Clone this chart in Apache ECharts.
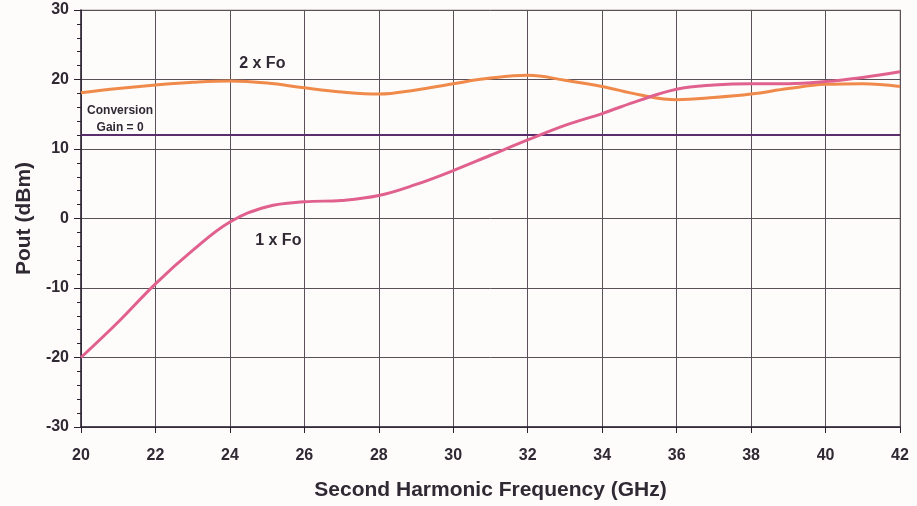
<!DOCTYPE html>
<html>
<head>
<meta charset="utf-8">
<script src="https://cdn.jsdelivr.net/npm/echarts@6/dist/echarts.min.js"></script>
<style>
  html, body { margin: 0; padding: 0; background: #fdfcfb; }
  #chart { width: 917px; height: 506px; }
</style>
</head>
<body>
<div id="chart"></div>
<script>
var chartDom = document.getElementById('chart');
var myChart = echarts.init(chartDom);

// frequency (GHz) and output power (dBm)
const freq = [20, 21, 22, 23, 24, 25, 26, 27, 28, 29, 30, 31, 32, 33, 34, 35, 36, 37, 38, 39, 40, 41, 42];
const twoFo = [18.1, 18.7, 19.2, 19.6, 19.8, 19.5, 18.8, 18.2, 17.9, 18.5, 19.4, 20.2, 20.6, 19.9, 19.0, 17.8, 17.1, 17.4, 17.9, 18.7, 19.3, 19.4, 19.0];
const oneFo = [-20.0, -14.9, -9.4, -4.6, -0.5, 1.7, 2.4, 2.6, 3.3, 4.9, 6.9, 9.1, 11.3, 13.4, 15.1, 17.0, 18.6, 19.2, 19.4, 19.4, 19.7, 20.3, 21.1];
const gainZero = 12;

const textColor = '#2f2933';
const font = 'Liberation Sans';

function pairs(xs, ys) {
  return xs.map((x, i) => [x, ys[i]]);
}

function note(text, x, y, size) {
  return {
    coord: [x, y],
    symbol: 'circle',
    symbolSize: 0,
    label: {
      show: true,
      position: 'inside',
      formatter: text,
      color: textColor,
      fontFamily: font,
      fontWeight: 'bold',
      fontSize: size
    }
  };
}

var option = {
  backgroundColor: '#fdfcfb',
  animation: false,
  grid: { left: 81, right: 17, top: 10, bottom: 79, show: true, borderColor: '#cbc4c4', borderWidth: 1.5 },
  xAxis: {
    type: 'value',
    min: 20,
    max: 42,
    interval: 2,
    name: 'Second Harmonic Frequency (GHz)',
    nameLocation: 'middle',
    nameGap: 53,
    nameTextStyle: { color: textColor, fontFamily: font, fontWeight: 'bold', fontSize: 21 },
    axisLine: { show: true, onZero: false, lineStyle: { color: '#2a2030', width: 1.5 } },
    axisTick: { show: true, length: 6, lineStyle: { color: '#2a2030' } },
    axisLabel: { color: textColor, fontFamily: font, fontWeight: 'bold', fontSize: 16, margin: 21 },
    splitLine: { show: true, lineStyle: { color: '#5a5058', width: 1 } }
  },
  yAxis: {
    type: 'value',
    min: -30,
    max: 30,
    interval: 10,
    name: 'Pout (dBm)',
    nameLocation: 'middle',
    nameGap: 40,
    nameRotate: 90,
    nameTextStyle: { color: textColor, fontFamily: font, fontWeight: 'bold', fontSize: 21 },
    axisLine: { show: true, lineStyle: { color: '#2a2030', width: 1.5 } },
    axisTick: { show: true, length: 7, lineStyle: { color: '#2a2030' } },
    minorTick: { show: true, splitNumber: 5, length: 4, lineStyle: { color: '#2a2030' } },
    axisLabel: { color: textColor, fontFamily: font, fontWeight: 'bold', fontSize: 16, margin: 12 },
    splitLine: { show: true, lineStyle: { color: '#5a5058', width: 1 } }
  },
  series: [
    {
      name: 'Conversion Gain = 0',
      type: 'line',
      data: [[20, gainZero], [42, gainZero]],
      symbol: 'none',
      lineStyle: { color: '#5b2d6c', width: 2 },
      markPoint: {
        data: [
          note('Conversion', 21.05, 15.45, 12),
          note('Gain = 0', 21.05, 13.0, 12)
        ]
      }
    },
    {
      name: '2 x Fo',
      type: 'line',
      data: pairs(freq, twoFo),
      smooth: 0.4,
      symbol: 'none',
      lineStyle: { color: '#f08a4b', width: 3 },
      markPoint: { data: [note('2 x Fo', 24.87, 22.3, 16)] }
    },
    {
      name: '1 x Fo',
      type: 'line',
      data: pairs(freq, oneFo),
      smooth: 0.4,
      symbol: 'none',
      lineStyle: { color: '#e0608e', width: 3 },
      markPoint: { data: [note('1 x Fo', 25.3, -3.2, 16)] }
    }
  ]
};

option && myChart.setOption(option);
</script>
</body>
</html>
